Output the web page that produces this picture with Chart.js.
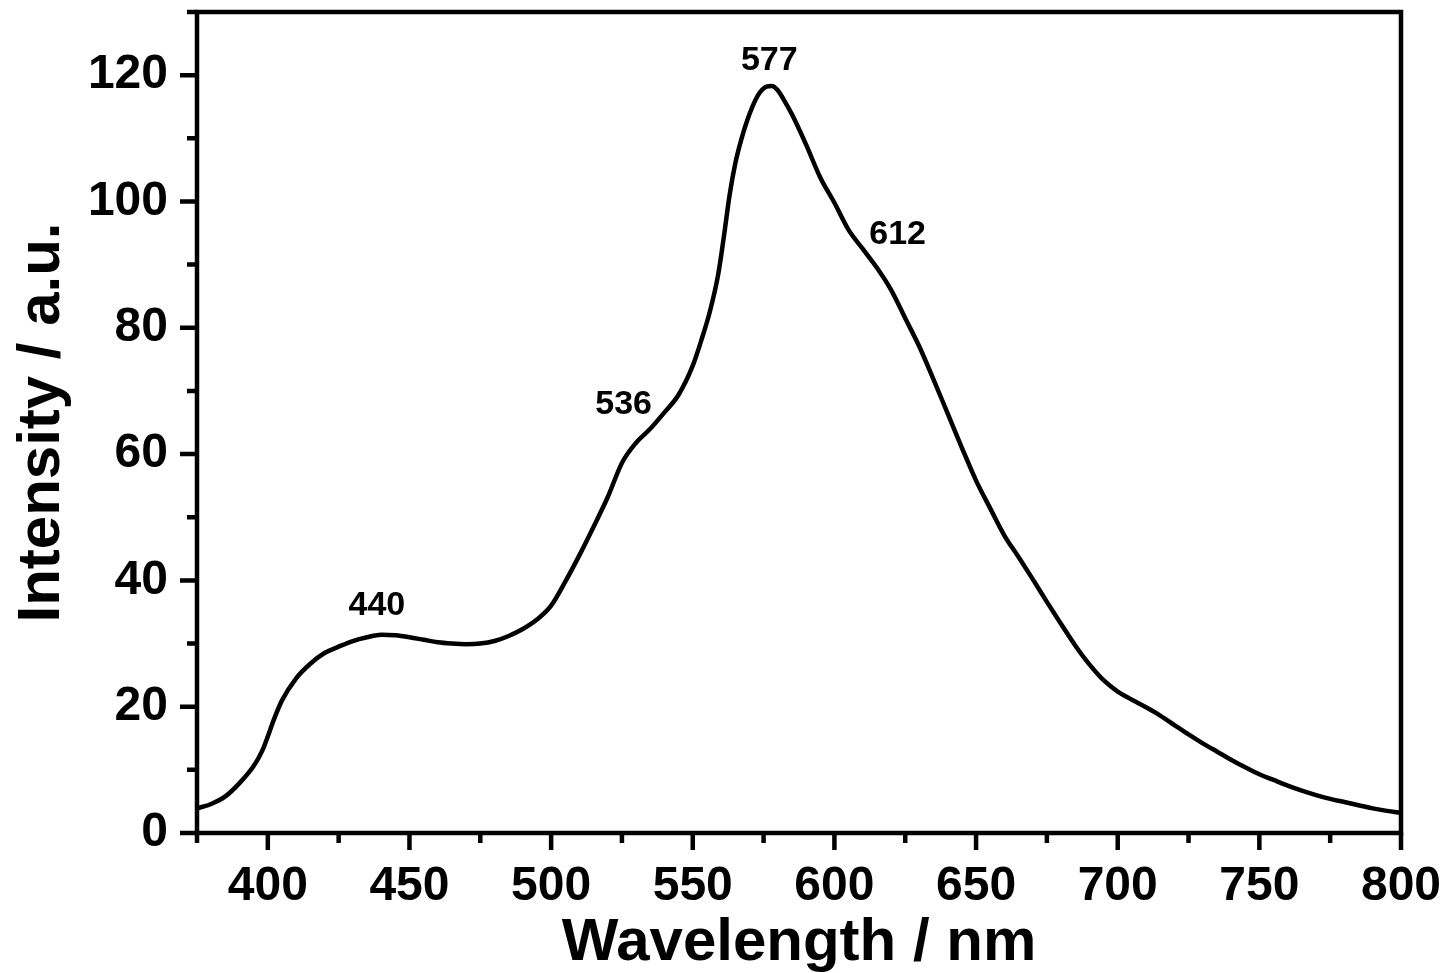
<!DOCTYPE html>
<html>
<head>
<meta charset="utf-8">
<script src="https://cdn.jsdelivr.net/npm/chart.js@4"></script>
<style>
  html, body { margin: 0; padding: 0; background: #fff; }
  #wrap { width: 1448px; height: 973px; }
</style>
</head>
<body>
<div id="wrap"><canvas id="grafico"></canvas></div>
<script>
const comprimentos = [375, 380, 385, 390, 395, 398, 400, 402, 405, 410, 415, 420, 425, 430, 435, 440, 445, 450, 455, 460, 465, 470, 475, 480, 485, 490, 495, 500, 505, 510, 515, 520, 525, 530, 535, 540, 545, 550, 553, 556, 559, 561, 563, 565, 567, 570, 573, 576, 578, 580, 582, 585, 590, 595, 600, 605, 610, 615, 620, 625, 630, 635, 640, 645, 650, 655, 660, 665, 670, 675, 680, 685, 690, 695, 700, 705, 710, 715, 720, 725, 730, 735, 740, 745, 750, 755, 760, 765, 770, 775, 780, 785, 790, 795, 800];
const intensidades = [3.9, 4.6, 5.8, 7.9, 10.6, 13, 15.3, 17.8, 21, 24.5, 26.8, 28.5, 29.5, 30.4, 31, 31.4, 31.3, 31, 30.6, 30.2, 30, 29.9, 30, 30.4, 31.2, 32.3, 33.8, 36, 39.8, 44, 48.5, 53.2, 58.6, 61.8, 64, 66.6, 69.4, 74, 78, 82.5, 88.5, 94.5, 101, 106, 109.6, 113.8, 116.8, 118.2, 118.3, 117.6, 116.2, 113.8, 109, 103.8, 99.8, 95.5, 92.5, 89.5, 86, 81.5, 77, 71.8, 66.4, 61, 55.8, 51.4, 47.1, 43.7, 40.2, 36.6, 33.1, 29.7, 26.7, 24.2, 22.4, 21.1, 19.9, 18.6, 17.1, 15.6, 14.2, 12.9, 11.6, 10.4, 9.3, 8.4, 7.5, 6.7, 6, 5.4, 4.9, 4.4, 3.9, 3.5, 3.2];

// rótulos dos picos
const picosTexto = ["440", "536", "577", "612"];
const picosX = [438.5, 525.6, 577, 622.3];
const picosY = [36, 67.8, 122.3, 94.8];

// marcas dos eixos
const xTicks = [400, 450, 500, 550, 600, 650, 700, 750, 800];
const xTicksMenores = [375, 425, 475, 525, 575, 625, 675, 725, 775];
const yTicks = [0, 20, 40, 60, 80, 100, 120];
const yTicksMenores = [10, 30, 50, 70, 90, 110, 130];

const fonte = '"Liberation Sans", Arial, Helvetica, sans-serif';

// desenha moldura, marcas maiores e menores e os rótulos dos picos
const pluginMoldura = {
    id: 'moldura',
    afterDatasetsDraw(chart) {
        const ctx = chart.ctx;
        const area = chart.chartArea;
        const sx = chart.scales.x;
        const sy = chart.scales.y;
        ctx.save();
        ctx.strokeStyle = '#000';
        ctx.lineWidth = 4.5;
        ctx.lineCap = 'butt';
        ctx.strokeRect(area.left, area.top, area.right - area.left, area.bottom - area.top);

        ctx.beginPath();
        xTicks.forEach(v => {
            const px = sx.getPixelForValue(v);
            ctx.moveTo(px, area.bottom);
            ctx.lineTo(px, area.bottom + 17);
        });
        xTicksMenores.forEach(v => {
            const px = sx.getPixelForValue(v);
            ctx.moveTo(px, area.bottom);
            ctx.lineTo(px, area.bottom + 10);
        });
        yTicks.forEach(v => {
            const py = sy.getPixelForValue(v);
            ctx.moveTo(area.left, py);
            ctx.lineTo(area.left - 17, py);
        });
        yTicksMenores.forEach(v => {
            const py = sy.getPixelForValue(v);
            ctx.moveTo(area.left, py);
            ctx.lineTo(area.left - 10, py);
        });
        ctx.stroke();

        ctx.fillStyle = '#000';
        ctx.font = 'bold 34px ' + fonte;
        ctx.textAlign = 'center';
        ctx.textBaseline = 'middle';
        picosTexto.forEach((t, i) => {
            ctx.fillText(t, sx.getPixelForValue(picosX[i]), sy.getPixelForValue(picosY[i]));
        });
        ctx.restore();
    }
};

const ctx = document.getElementById('grafico').getContext('2d');

new Chart(ctx, {
    type: 'line',
    data: {
        datasets: [{
            data: comprimentos.map((x, i) => ({ x: x, y: intensidades[i] })),
            borderColor: '#000',
            borderWidth: 4.5,
            pointRadius: 0,
            cubicInterpolationMode: 'monotone',
            fill: false,
        }],
    },
    options: {
        responsive: true,
        maintainAspectRatio: false,
        animation: false,
        events: [],
        layout: {
            padding: { left: 0, right: 47, top: 12, bottom: 0 },
        },
        plugins: {
            legend: { display: false },
            tooltip: { enabled: false },
        },
        scales: {
            x: {
                type: 'linear',
                min: 375,
                max: 800,
                afterBuildTicks: scale => { scale.ticks = xTicks.map(v => ({ value: v })); },
                afterFit: scale => {
                    scale.height = 140;
                    scale.paddingLeft = 0;
                    scale.paddingRight = 0;
                },
                grid: { display: false, drawTicks: true, tickLength: 17 },
                border: { display: false },
                ticks: {
                    color: '#000',
                    padding: 8,
                    maxRotation: 0,
                    autoSkip: false,
                    font: { family: fonte, size: 48, weight: 'bold' },
                },
                title: {
                    display: true,
                    text: 'Wavelength / nm',
                    color: '#000',
                    padding: { top: 0, bottom: 0 },
                    font: { family: fonte, size: 60, weight: 'bold', lineHeight: 1 },
                },
            },
            y: {
                min: 0,
                max: 130,
                afterBuildTicks: scale => { scale.ticks = yTicks.map(v => ({ value: v })); },
                afterFit: scale => {
                    scale.width = 197;
                    scale.paddingTop = 0;
                    scale.paddingBottom = 0;
                },
                grid: { display: false, drawTicks: true, tickLength: 17 },
                border: { display: false },
                ticks: {
                    color: '#000',
                    padding: 12,
                    autoSkip: false,
                    font: { family: fonte, size: 48, weight: 'bold' },
                },
                title: {
                    display: true,
                    text: 'Intensity / a.u.',
                    color: '#000',
                    padding: { top: 6, bottom: 0 },
                    font: { family: fonte, size: 60, weight: 'bold', lineHeight: 1.2 },
                },
            },
        },
    },
    plugins: [pluginMoldura],
});
</script>
</body>
</html>
